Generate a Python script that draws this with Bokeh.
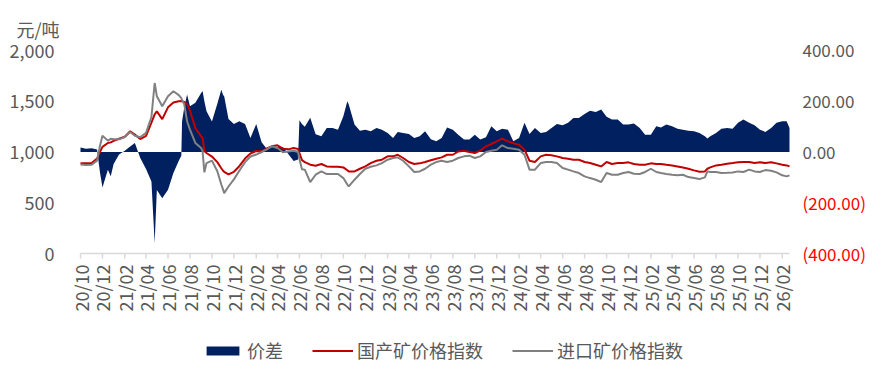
import pandas as pd
from math import pi
from bokeh.plotting import figure
from bokeh.models import Range1d, Legend, LegendItem, ColumnDataSource
from bokeh.core.properties import value
from bokeh.embed import file_html
from bokeh.resources import INLINE

# ---------------- data ----------------
dates = [
    "2020-10-01", "2020-10-16", "2020-11-01", "2020-11-16", "2020-11-24", "2020-12-01", "2020-12-16", "2020-12-24",
    "2021-01-01", "2021-01-16", "2021-02-01", "2021-02-16", "2021-03-01", "2021-03-16", "2021-04-01", "2021-04-16",
    "2021-04-25", "2021-05-01", "2021-05-16", "2021-06-01", "2021-06-16", "2021-07-01", "2021-07-08", "2021-07-10",
    "2021-07-16", "2021-07-24", "2021-08-01", "2021-08-16", "2021-09-01", "2021-09-05", "2021-09-10", "2021-09-16",
    "2021-10-01", "2021-10-16", "2021-10-27", "2021-11-01", "2021-11-04", "2021-11-16", "2021-12-01", "2021-12-16",
    "2022-01-01", "2022-01-16", "2022-02-01", "2022-02-16", "2022-03-01", "2022-03-16", "2022-04-01", "2022-04-16",
    "2022-05-01", "2022-05-16", "2022-05-28", "2022-06-01", "2022-06-08", "2022-06-16", "2022-07-01", "2022-07-16",
    "2022-08-01", "2022-08-16", "2022-09-01", "2022-09-16", "2022-10-01", "2022-10-12", "2022-10-16", "2022-11-01",
    "2022-11-16", "2022-12-01", "2022-12-16", "2023-01-01", "2023-01-16", "2023-02-01", "2023-02-16", "2023-03-01",
    "2023-03-16", "2023-04-01", "2023-04-16", "2023-05-01", "2023-05-16", "2023-06-01", "2023-06-16", "2023-07-01",
    "2023-07-16", "2023-08-01", "2023-08-16", "2023-09-01", "2023-09-16", "2023-10-01", "2023-10-16", "2023-11-01",
    "2023-11-16", "2023-12-01", "2023-12-16", "2024-01-01", "2024-01-16", "2024-02-01", "2024-02-16", "2024-03-01",
    "2024-03-16", "2024-04-01", "2024-04-16", "2024-05-01", "2024-05-16", "2024-06-01", "2024-06-16", "2024-07-01",
    "2024-07-16", "2024-08-01", "2024-08-16", "2024-09-01", "2024-09-16", "2024-10-01", "2024-10-16", "2024-11-01",
    "2024-11-16", "2024-12-01", "2024-12-16", "2025-01-01", "2025-01-16", "2025-02-01", "2025-02-16", "2025-03-01",
    "2025-03-16", "2025-04-01", "2025-04-16", "2025-05-01", "2025-05-16", "2025-06-01", "2025-06-16", "2025-07-01",
    "2025-07-08", "2025-07-16", "2025-08-01", "2025-08-16", "2025-09-01", "2025-09-16", "2025-10-01", "2025-10-16",
    "2025-11-01", "2025-11-16", "2025-12-01", "2025-12-16", "2026-01-01", "2026-01-16", "2026-02-01", "2026-02-13",
    "2026-02-21",
]

# 国产矿价格指数 (left axis, 元/吨)
domestic_index = [
    890, 888, 891, 935, 1000, 1050, 1089, 1095,
    1110, 1130, 1150, 1204, 1171, 1128, 1160, 1290,
    1370, 1400, 1324, 1440, 1487, 1500, 1503, 1500,
    1493, 1474, 1408, 1237, 1154, 1140, 1010, 990,
    955, 900, 840, 815, 805, 780, 805, 860,
    935, 985, 1010, 1007, 1033, 1056, 1066, 1033,
    1026, 1039, 1030, 990, 920, 901, 875, 865,
    882, 858, 855, 855, 848, 820, 809, 809,
    835, 858, 891, 914, 924, 957, 957, 973,
    941, 901, 882, 888, 901, 918, 934, 947,
    973, 973, 1006, 1013, 1000, 990, 1013, 1056,
    1079, 1105, 1132, 1105, 1086, 1072, 1023, 914,
    901, 957, 973, 967, 957, 941, 934, 924,
    924, 901, 891, 875, 858, 901, 882, 891,
    891, 898, 882, 875, 875, 888, 882, 882,
    875, 868, 858, 848, 835, 819, 806, 809,
    835, 848, 868, 875, 885, 891, 898, 901,
    901, 891, 898, 891, 898, 888, 875, 868,
    858,
]

# 进口矿价格指数 (left axis, 元/吨)
imported_index = [
    878, 872, 875, 915, 1060, 1160, 1112, 1130,
    1125, 1125, 1148, 1197, 1160, 1145, 1190, 1345,
    1680, 1550, 1450, 1549, 1598, 1560, 1530, 1510,
    1474, 1303, 1220, 1089, 1039, 1010, 800, 891,
    915, 810, 680, 630, 595, 660, 730, 815,
    900, 955, 975, 1000, 1023, 1056, 1039, 997,
    1006, 1013, 1000, 930, 830, 826, 703, 776,
    809, 783, 783, 783, 743, 680, 661, 727,
    783, 835, 855, 868, 891, 924, 941, 947,
    914, 858, 803, 809, 835, 875, 901, 914,
    901, 914, 941, 957, 964, 941, 957, 1000,
    1013, 1023, 1066, 1039, 1033, 1023, 973, 826,
    826, 891, 901, 901, 891, 842, 826, 809,
    793, 760, 743, 727, 704, 793, 776, 776,
    793, 803, 786, 783, 803, 835, 803, 793,
    783, 776, 770, 776, 753, 743, 733, 750,
    809, 803, 803, 793, 796, 799, 809, 803,
    826, 809, 803, 822, 816, 799, 770, 760,
    770,
]

# 价差 (right axis)
spread = [
    18, 13, 15, 10, -80, -140, -70, -96,
    -47, -10, 5, 22, 35, -24, -67, -116,
    -360, -150, -182, -149, -83, -34, -15, 120,
    174, 227, 180, 194, 233, 240, 200, 161,
    120, 190, 245, 225, 220, 130, 110, 121,
    110, 55, 110, 38, 15, 25, 20, 20,
    -8, -35, -30, 125, 110, 100, 135, 70,
    62, 95, 95, 88, 141, 200, 187, 108,
    84, 88, 82, 95, 88, 75, 55, 79,
    75, 71, 55, 62, 82, 50, 42, 55,
    97, 88, 68, 49, 49, 68, 49, 58,
    101, 82, 92, 88, 42, 55, 115, 71,
    95, 75, 79, 95, 110, 105, 115, 134,
    134, 150, 163, 158, 167, 139, 128, 128,
    108, 108, 112, 95, 68, 68, 101, 97,
    108, 101, 92, 88, 84, 82, 75, 62,
    53, 62, 75, 92, 95, 92, 115, 128,
    115, 105, 88, 79, 95, 115, 121, 121,
    95,
]

tick_labels = [
    "20/10", "20/12",
    "21/02", "21/04", "21/06", "21/08", "21/10", "21/12",
    "22/02", "22/04", "22/06", "22/08", "22/10", "22/12",
    "23/02", "23/04", "23/06", "23/08", "23/10", "23/12",
    "24/02", "24/04", "24/06", "24/08", "24/10", "24/12",
    "25/02", "25/04", "25/06", "25/08", "25/10", "25/12",
    "26/02",
]
left_ticks = [0, 500, 1000, 1500, 2000]
left_tick_labels = ["0", "500", "1,000", "1,500", "2,000"]
right_ticks = [-400, -200, 0, 200, 400]
right_tick_labels = ["(400.00)", "(200.00)", "0.00", "200.00", "400.00"]

series_names = ["价差", "国产矿价格指数", "进口矿价格指数"]
unit_label = "元/吨"

# ---------------- layout (pixel positions on the page) ----------------
FONT = value("Noto Sans CJK SC")
TXT = "#595959"
NAVY = "#002060"
RED = "#C00000"
GREY = "#808080"

W, H = 871, 369
PX_LEFT, PX_RIGHT = 80, 789        # first / last date
PX_BOTTOM, PX_TOP = 253, 50        # left value 0 / 2000

x_ms = [t.value / 1e6 for t in pd.to_datetime(dates)]
tick_ms = [pd.Timestamp("20" + s[:2] + "-" + s[3:] + "-01").value / 1e6 for s in tick_labels]

ms_per_px = (x_ms[-1] - x_ms[0]) / (PX_RIGHT - PX_LEFT)
u_per_px = (left_ticks[-1] - left_ticks[0]) / (PX_BOTTOM - PX_TOP)
r_per_px = (right_ticks[-1] - right_ticks[0]) / (PX_BOTTOM - PX_TOP)


def xd(px):   # page x -> data x
    return x_ms[0] + (px - PX_LEFT) * ms_per_px


def yd(py):   # page y -> left-axis value
    return left_ticks[0] + (PX_BOTTOM - py) * u_per_px


p = figure(width=W, height=H, output_backend="svg", toolbar_location=None, title=None,
           x_axis_location=None, y_axis_location=None,
           x_range=Range1d(xd(0), xd(W)), y_range=Range1d(yd(H), yd(0)),
           min_border=0, min_border_left=0, min_border_right=0, min_border_top=0, min_border_bottom=0,
           background_fill_color="white", border_fill_color="white")
p.outline_line_color = None
p.grid.grid_line_color = None
p.grid.visible = False
p.extra_y_ranges = {"spread": Range1d(right_ticks[0] - (H - PX_BOTTOM) * r_per_px,
                                      right_ticks[-1] + PX_TOP * r_per_px)}

# ---------------- series ----------------
src = ColumnDataSource(dict(x=x_ms, dom=domestic_index, imp=imported_index, spr=spread,
                            zero=[0] * len(spread)))
area = p.varea(x="x", y1="zero", y2="spr", source=src, y_range_name="spread", fill_color=NAVY)
l_dom = p.line(x="x", y="dom", source=src, line_color=RED, line_width=2)
l_imp = p.line(x="x", y="imp", source=src, line_color=GREY, line_width=2)

# ---------------- x axis (line, ticks, rotated labels) ----------------
p.segment(x0=[x_ms[0]], y0=[left_ticks[0]], x1=[x_ms[-1]], y1=[left_ticks[0]],
          line_color="#D9D9D9", line_width=1.5)
p.segment(x0=tick_ms, y0=[left_ticks[0]] * len(tick_ms), x1=tick_ms,
          y1=[yd(PX_BOTTOM + 5)] * len(tick_ms), line_color="#D9D9D9", line_width=1.5)
p.text(x=tick_ms, y=[yd(PX_BOTTOM + 11)] * len(tick_ms), text=tick_labels, angle=pi / 2,
       text_align="right", text_baseline="middle", text_font=FONT, text_font_size="18px",
       text_color=TXT)

# ---------------- left axis labels + unit ----------------
p.text(x=[xd(54)] * len(left_ticks), y=left_ticks, text=left_tick_labels,
       text_align="right", text_baseline="middle", text_font=FONT, text_font_size="18px",
       text_color=TXT)
p.text(x=[xd(59)], y=[yd(28)], text=[unit_label], text_align="right", text_baseline="middle",
       text_font=FONT, text_font_size="18px", text_color=TXT)

# ---------------- right axis labels (negatives in red) ----------------
r_src = ColumnDataSource(dict(y=right_ticks, t=right_tick_labels, x=[xd(802)] * len(right_ticks),
                              c=["#FF0000" if v < 0 else TXT for v in right_ticks]))
p.text(x="x", y="y", text="t", source=r_src, y_range_name="spread", text_color="c",
       text_align="left", text_baseline="middle", text_font=FONT, text_font_size="17px")

# ---------------- legend ----------------
legend = Legend(items=[LegendItem(label=series_names[0], renderers=[area]),
                       LegendItem(label=series_names[1], renderers=[l_dom]),
                       LegendItem(label=series_names[2], renderers=[l_imp])],
                orientation="horizontal", location=(202, H - 363),
                glyph_width=41, glyph_height=11, label_standoff=4, spacing=29,
                padding=0, margin=0, border_line_color=None, background_fill_alpha=0,
                label_text_font="Noto Sans CJK SC", label_text_font_size="18px",
                label_text_color=TXT, label_height=20)
p.add_layout(legend)

open("out.html", "w").write(file_html(p, INLINE))
